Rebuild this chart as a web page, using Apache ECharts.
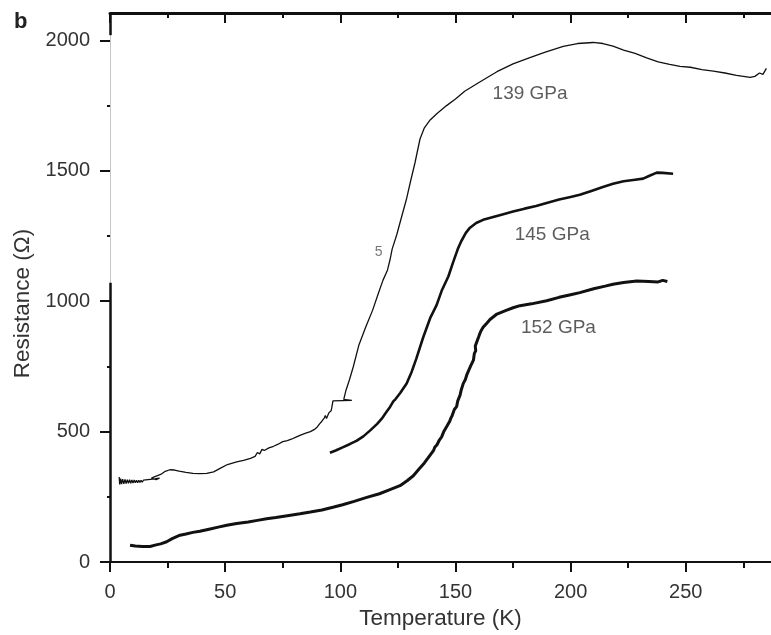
<!DOCTYPE html>
<html>
<head>
<meta charset="utf-8">
<script src="https://cdn.jsdelivr.net/npm/echarts@6/dist/echarts.min.js"></script>
<style>
html,body{margin:0;padding:0;background:#fff;}
#chart{width:771px;height:635px;}
</style>
</head>
<body>
<div id="chart"></div>
<script>
// Tick values
const temperatureTicks = [0, 50, 100, 150, 200, 250];
const temperatureMinorTicks = [25, 75, 125, 175, 225, 275];
const resistanceTicks = [0, 500, 1000, 1500, 2000];
const resistanceMinorTicks = [250, 750, 1250, 1750];

// Series: [temperature K, resistance Ohm]
const r139 = [
  [4,326],[4.2,298],[4.6,320],[5,299],[5.5,318],[6,300],[6.5,317],[7,301],[7.5,316],[8,302],[8.5,316],[9,302],
  [9.5,315],[10,303],[10.5,315],[11,304],[11.5,314],[12,304],[12.5,314],[13,305],[13.5,314],[14,306],
  [14.5,314],[15,307],[15.5,315],[16,308],[16.5,316],[17,309],[17.5,317],[18,310],[18.5,318],[19,311],
  [19.5,319],[20,313],[20.5,321],[21.5,322],[20,316],[18,322],[19.5,328],[22,336],
  [24,348],[26,354],[28,353],[30,349],[33,344],[36,340],[39,339],[42,340],[45,346],[48,360],[51,374],
  [55,384],[58,390],[61,398],[63,405],[64,420],[65,415],[66,432],[67,428],[69,438],[71,444],[73,452],
  [75,462],[77,466],[79,472],[81,480],[83,488],[85,494],[87,500],[89,510],[90,518],[91,530],[92,540],
  [93,552],[93.5,562],[94,550],[95,572],[95.5,565],[96,580],[96.3,592],[96.8,618],[105,620],[101.5,624],
  [102.5,660],[104,700],[105.6,748],[108,830],[111,900],[114,965],[116.5,1030],[118.5,1080],[120.5,1120],
  [121.6,1160],[122.5,1200],[124.5,1255],[126.5,1320],[128.8,1394],[130.5,1460],[132.4,1530],[134.6,1622],
  [136.5,1665],[139,1695],[142,1720],[146,1749],[150,1775],[154,1805],[157.7,1825],[162,1848],[168,1880],
  [175,1910],[182,1933],[189,1955],[196.8,1977],[203,1988],[209.8,1992],[214,1988],[218.4,1978],[223,1963],
  [228,1950],[233,1933],[238,1918],[243,1908],[247.5,1900],[252,1897],[257,1888],[262,1882],[267,1875],
  [272,1866],[275,1862],[278,1858],[280,1862],[282,1875],[283.5,1870],[285,1893]
];
const r145 = [
  [95.5,419],[98,428],[101,440],[104,452],[107,465],[110,482],[113,505],[116,530],[118,550],[120,575],
  [121.6,595],[123,616],[124,625],[126,648],[128.8,685],[131,730],[133,780],[136,862],[139,935],[141.8,985],
  [144,1040],[146.9,1095],[149,1150],[151,1200],[152.5,1230],[154.5,1262],[156.3,1282],[159,1300],[162,1312],
  [166,1322],[170,1332],[175,1344],[180,1355],[185,1365],[189.6,1377],[195,1390],[200,1400],[204,1408],
  [209,1423],[214,1438],[218.4,1450],[223,1460],[228,1466],[231.5,1470],[234,1480],[237.4,1493],[240,1492],
  [244.5,1489]
];
const r152 = [
  [8.7,65],[11,62],[14,60],[17.4,60],[20,66],[22,70],[24.6,78],[27,90],[30.4,103],[33,108],[36,114],[39,118],
  [43,126],[47,134],[50.7,141],[55,148],[60,154],[64,160],[68,166],[72,171],[77,178],[82.5,185],[87,192],
  [92,200],[96.8,210],[101,220],[106,233],[111.5,248],[117,262],[121,276],[125.9,293],[129,312],[131.7,331],
  [134,355],[136.5,380],[139,410],[140.5,428],[141,440],[142,450],[143,468],[144,480],[145,502],[145.5,498],
  [146.2,520],[147.5,540],[148,552],[148.5,560],[149.5,585],[150.5,596],[151,618],[152,640],[152.5,660],
  [153.4,685],[154.3,700],[155,720],[155.5,716],[156.5,750],[157.8,774],[158.2,800],[158.8,810],[158.6,828],
  [159.5,850],[160,862],[160.4,872],[161,885],[162,900],[163.5,915],[165,930],[168,951],[172,965],[175,975],
  [178,983],[183,990],[189.6,1002],[195,1015],[200,1025],[204,1033],[210,1048],[215,1058],[218.4,1065],
  [223,1072],[228.7,1078],[234,1076],[238,1074],[240,1080],[242,1076]
];

// Annotation texts and anchors (data coordinates)
const noteTexts = ['139 GPa', '145 GPa', '152 GPa', '5'];
const noteAnchors = [[182.4,1795],[192,1256],[194.7,897],[116.6,1189]];

const FONT = 'Liberation Sans, Arial, Helvetica, sans-serif';
const TXT = '#333';
const INK = '#111';
const X_MAX = 287, Y_MAX = 2105;

const chart = echarts.init(document.getElementById('chart'), null, {renderer: 'canvas'});

function xAx(pos, vals, len, inside, lineShow, lineW, labels, extra) {
  return Object.assign({
    type: 'value', position: pos, min: 0, max: X_MAX,
    axisLine: {show: lineShow, onZero: false, lineStyle: {color: INK, width: lineW}},
    axisTick: {show: true, inside: inside, length: len, customValues: vals, lineStyle: {color: INK, width: 2}},
    axisLabel: labels ? {show: true, customValues: vals, fontSize: 20, color: TXT, margin: 20, fontFamily: FONT,
      formatter: (v) => String(v)} : {show: false},
    splitLine: {show: false}, minorTick: {show: false}
  }, extra || {});
}
function yAx(vals, len, lineShow, labels, extra) {
  return Object.assign({
    type: 'value', position: 'left', min: 0, max: Y_MAX,
    axisLine: {show: lineShow, onZero: false, lineStyle: {color: '#c6c6c6', width: 1}},
    axisTick: {show: true, inside: false, length: len, customValues: vals, lineStyle: {color: INK, width: 2}},
    axisLabel: labels ? {show: true, customValues: vals, fontSize: 20, color: TXT, margin: 20, fontFamily: FONT,
      formatter: (v) => String(v)} : {show: false},
    splitLine: {show: false}, minorTick: {show: false}
  }, extra || {});
}

const option = {
  animation: false,
  backgroundColor: '#fff',
  title: {text: 'b', left: 9, top: 6, textStyle: {fontSize: 22, fontWeight: 'bold', color: '#222', fontFamily: FONT}},
  grid: {left: 110, right: 0, top: 13, bottom: 68, containLabel: false},
  xAxis: [
    xAx('bottom', temperatureTicks, 10, false, true, 2, true, {
      name: 'Temperature (K)', nameLocation: 'middle', nameGap: 42,
      nameTextStyle: {fontSize: 22.5, color: TXT, fontFamily: FONT}
    }),
    xAx('bottom', temperatureMinorTicks, 6, false, false, 2, false),
    xAx('top', temperatureTicks, 10, true, true, 3, false),
    xAx('top', temperatureMinorTicks, 5, true, false, 3, false)
  ],
  yAxis: [
    yAx(resistanceTicks, 10, true, true, {
      name: 'Resistance (Ω)', nameLocation: 'middle', nameGap: 74,
      nameTextStyle: {fontSize: 22.5, color: TXT, fontFamily: FONT, padding: [0, 32, 0, 0]}
    }),
    yAx(resistanceMinorTicks, 3, false, false)
  ],
  series: [
    {
      name: '139 GPa', type: 'line', xAxisIndex: 0, yAxisIndex: 0, data: r139,
      showSymbol: false, symbol: 'none', lineStyle: {color: INK, width: 1.3}, silent: true
    },
    {
      name: '145 GPa', type: 'line', xAxisIndex: 0, yAxisIndex: 0, data: r145,
      showSymbol: false, symbol: 'none', lineStyle: {color: INK, width: 2.6}, silent: true
    },
    {
      name: '152 GPa', type: 'line', xAxisIndex: 0, yAxisIndex: 0, data: r152,
      showSymbol: false, symbol: 'none', lineStyle: {color: INK, width: 3}, silent: true,
      clip: false,
      markLine: {
        silent: true, symbol: 'none', animation: false,
        label: {show: false},
        lineStyle: {color: INK, width: 2.5, type: 'solid'},
        data: [
          [{coord: [0, 0]}, {coord: [0, 1071]}],
          [{coord: [0, 2020]}, {coord: [0, Y_MAX]}]
        ]
      }
    },
    {
      type: 'scatter', xAxisIndex: 0, yAxisIndex: 0, symbolSize: 0, silent: true,
      data: noteAnchors.map((p, i) => ({
        value: [p[0], p[1], noteTexts[i]],
        label: {fontSize: i === 3 ? 14 : 19, color: i === 3 ? '#555' : '#333'}
      })),
      label: {show: true, position: 'inside', fontFamily: FONT, formatter: (p) => p.value[2]}
    }
  ]
};
chart.setOption(option);
</script>
</body>
</html>
